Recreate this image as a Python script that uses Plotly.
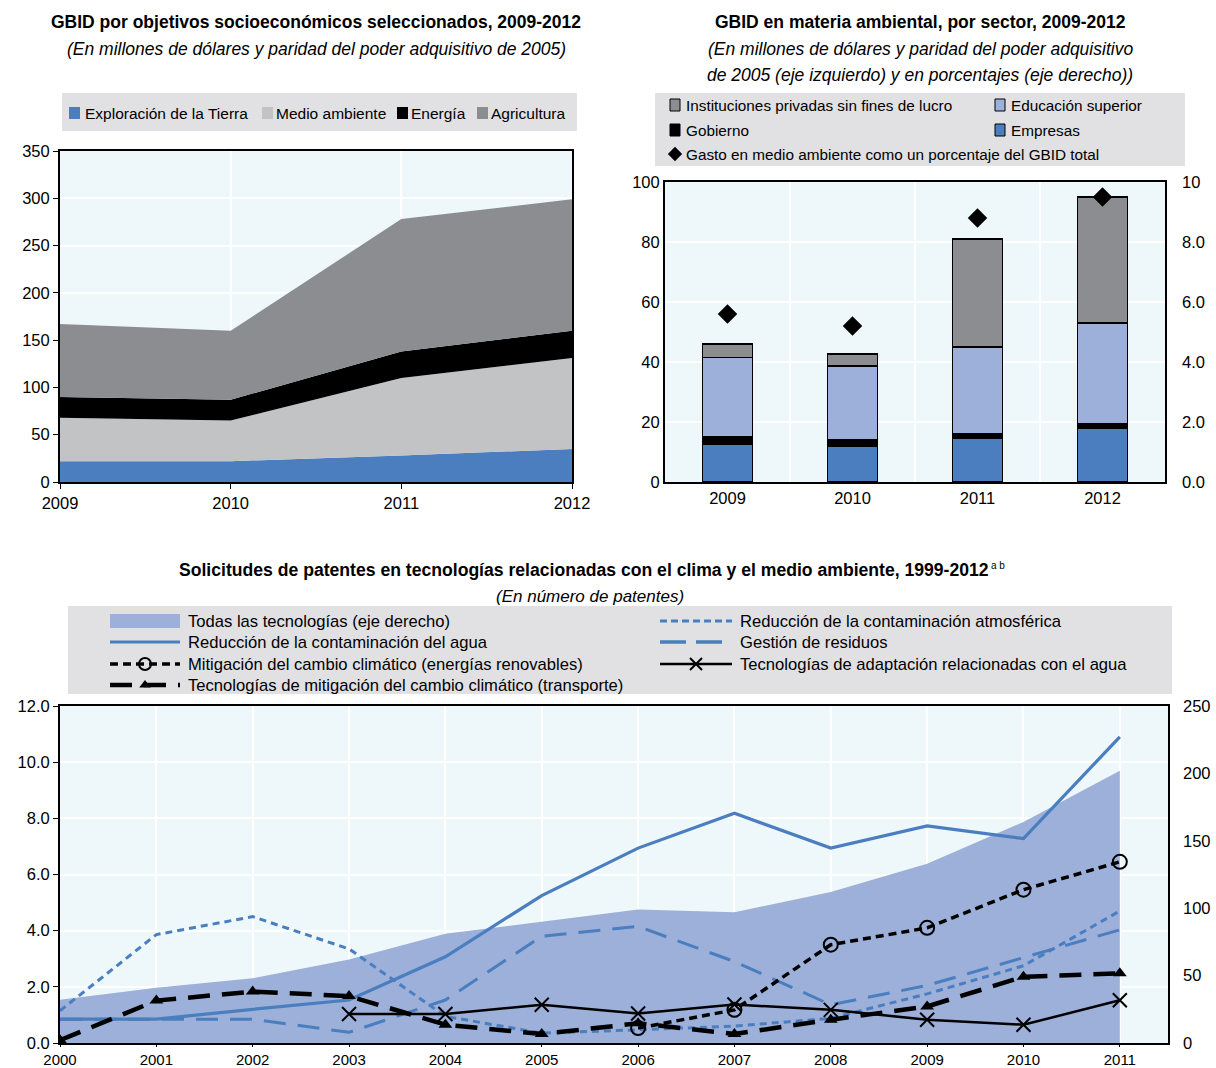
import plotly.graph_objects as go

W, H = 1216, 1068
FONT = "Liberation Sans, Arial, sans-serif"

# ---------------- data ----------------
# Panel A: GBID por objetivos socioeconómicos (stacked areas)
years_a = [2009, 2010, 2011, 2012]
exploracion = [22, 22, 28, 35]
medio_ambiente = [46, 43, 82, 96]
energia = [22, 22, 28, 29]
agricultura = [77, 73, 140, 139]

# Panel B: GBID ambiental por sector (stacked bars) + % (right axis)
years_b = ["2009", "2010", "2011", "2012"]
empresas = [12.5, 12.0, 14.5, 18.0]
gobierno = [2.5, 2.3, 1.5, 1.5]
educacion = [26.5, 24.4, 29.0, 33.5]
instituciones = [4.5, 4.0, 36.0, 42.0]
pct_gbid = [5.6, 5.2, 8.8, 9.5]
right_b_ticks = [0, 2, 4, 6, 8, 10]
right_b_text = ["0.0", "2.0", "4.0", "6.0", "8.0", "10"]

# Panel C: patents
years_c = list(range(2000, 2012))
todas = [32, 41, 48, 62, 81, 90, 99, 97, 112, 133, 164, 202]
agua = [0.85, 0.85, 1.2, 1.53, 3.07, 5.25, 6.94, 8.18, 6.94, 7.73, 7.28, 10.9]
aire = [1.15, 3.86, 4.5, 3.35, 0.95, 0.35, 0.47, 0.6, 0.88, 1.75, 2.75, 4.7]
residuos = [0.85, 0.85, 0.85, 0.38, 1.53, 3.8, 4.15, 2.9, 1.36, 2.05, 3.05, 4.03]
renovables = [None] * 6 + [0.53, 1.18, 3.5, 4.1, 5.46, 6.45]
adaptacion = [None] * 3 + [1.03, 1.03, 1.36, 1.05, 1.37, 1.18, 0.83, 0.65, 1.52]
transporte = [0.1, 1.51, 1.83, 1.67, 0.65, 0.32, 0.7, 0.32, 0.83, 1.3, 2.36, 2.48]

# ---------------- styles ----------------
BLUE = "#4A7EBF"
LGRAY = "#C2C3C5"
DGRAY = "#8C8D91"
LBLUE = "#9DB0DA"
AREA = "#9CB0D9"
PLOTBG = "#EEF7FA"
LEGBG = "#E1E1E3"


def px(x):
    return x / W


def py(y):
    return 1 - y / H


fig = go.Figure()

# ---------- Panel A ----------
for name, vals, col in [("Exploración de la Tierra", exploracion, BLUE),
                        ("Medio ambiente", medio_ambiente, LGRAY),
                        ("Energía", energia, "#000000"),
                        ("Agricultura", agricultura, DGRAY)]:
    fig.add_trace(go.Scatter(x=years_a, y=vals, name=name, stackgroup="a",
                             mode="lines", line=dict(width=0, color=col),
                             fillcolor=col, xaxis="x", yaxis="y", showlegend=False))

# ---------- Panel B ----------
for name, vals, col in [("Empresas", empresas, BLUE),
                        ("Gobierno", gobierno, "#000000"),
                        ("Educación superior", educacion, LBLUE),
                        ("Instituciones privadas sin fines de lucro", instituciones, DGRAY)]:
    fig.add_trace(go.Bar(x=years_b, y=vals, name=name, marker=dict(color=col, line=dict(color="#000", width=1.2)),
                         width=0.4, xaxis="x2", yaxis="y2", showlegend=False))
fig.add_trace(go.Scatter(x=years_b, y=pct_gbid, mode="markers", name="Gasto en medio ambiente",
                         marker=dict(symbol="diamond", size=15, color="#000"),
                         xaxis="x2", yaxis="y3", showlegend=False))

# ---------- Panel C ----------
fig.add_trace(go.Scatter(x=years_c, y=todas, mode="lines", fill="tozeroy", fillcolor=AREA,
                         line=dict(width=0, color=AREA), name="Todas las tecnologías",
                         xaxis="x3", yaxis="y4", showlegend=False))
line_specs = [
    ("Reducción de la contaminación atmosférica", aire, dict(color=BLUE, width=3, dash="7px,5px"), None),
    ("Gestión de residuos", residuos, dict(color=BLUE, width=3, dash="22px,12px"), None),
    ("Reducción de la contaminación del agua", agua, dict(color=BLUE, width=3.2), None),
    ("Tecnologías de adaptación relacionadas con el agua", adaptacion, dict(color="#000", width=2.5),
     dict(symbol="x-thin-open", size=14, color="#000", line=dict(color="#000", width=2))),
    ("Mitigación del cambio climático (energías renovables)", renovables, dict(color="#000", width=3.5, dash="8px,5px"),
     dict(symbol="circle-open", size=14, color="#000", line=dict(color="#000", width=2))),
    ("Tecnologías de mitigación del cambio climático (transporte)", transporte,
     dict(color="#000", width=4.5, dash="22px,12px"),
     dict(symbol="triangle-up", size=12, color="#000")),
]
for name, vals, ln, mk in line_specs:
    fig.add_trace(go.Scatter(x=years_c, y=vals, name=name, mode="lines+markers" if mk else "lines",
                             line=ln, marker=mk, xaxis="x3", yaxis="y5", showlegend=False,
                             connectgaps=False))

# ---------- legend samples on a pixel canvas ----------
shapes = []
annotations = []


def canvas_text(x, y, text, size=15.5, anchor="left", bold=False, italic=False):
    t = text
    if bold:
        t = "<b>" + t + "</b>"
    if italic:
        t = "<i>" + t + "</i>"
    annotations.append(dict(x=x, y=y, xref="x4", yref="y6", text=t, showarrow=False,
                            xanchor=anchor, yanchor="middle",
                            font=dict(family=FONT, size=size, color="#000")))


def canvas_rect(x0, y0, x1, y1, fill, line=None):
    shapes.append(dict(type="rect", xref="x4", yref="y6", x0=x0, y0=y0, x1=x1, y1=y1,
                       fillcolor=fill, line=dict(width=1 if line else 0, color=line or fill),
                       layer="below"))


# Panel A legend
canvas_rect(62, 93, 577, 131, LEGBG)
for sx, tx, label, col in [(69, 83, "Exploración de la Tierra", BLUE),
                           (262, 274, "Medio ambiente", LGRAY),
                           (397, 409, "Energía", "#000"),
                           (477, 489, "Agricultura", DGRAY)]:
    canvas_rect(sx, 107, sx + 11, 119, col)
    canvas_text(tx, 113, label)

# Panel B legend
canvas_rect(655, 93, 1185, 166, LEGBG)
for sx, yy, label, col in [(670, 105, "Instituciones privadas sin fines de lucro", DGRAY),
                           (995, 105, "Educación superior", LBLUE),
                           (670, 130, "Gobierno", "#000"),
                           (995, 130, "Empresas", BLUE)]:
    canvas_rect(sx, yy - 6, sx + 10, yy + 6, col, line="#000")
    canvas_text(sx + 14, yy, label, size=15.3)
fig.add_trace(go.Scatter(x=[675], y=[154], mode="markers", marker=dict(symbol="diamond", size=11, color="#000"),
                         xaxis="x4", yaxis="y6", showlegend=False, hoverinfo="skip"))
canvas_text(684, 154, "Gasto en medio ambiente como un porcentaje del GBID total", size=15.3)

# Panel C legend
canvas_rect(68, 606, 1172, 694, LEGBG)
canvas_rect(110, 614, 180, 628, AREA)
LX0, LX1 = 110, 180
RX0, RX1 = 660, 732
leg_c = [
    (LX0, LX1, 621, "Todas las tecnologías (eje derecho)", None, None),
    (RX0, RX1, 621, "Reducción de la contaminación atmosférica", dict(color=BLUE, width=3, dash="7px,4px"), None),
    (LX0, LX1, 642, "Reducción de la contaminación del agua", dict(color=BLUE, width=3.2), None),
    (RX0, RX1, 642, "Gestión de residuos", dict(color=BLUE, width=3.5, dash="26px,10px"), None),
    (LX0, LX1, 664, "Mitigación del cambio climático (energías renovables)",
     dict(color="#000", width=3.5, dash="8px,5px"),
     dict(symbol="circle-open", size=12, color="#000", line=dict(color="#000", width=2))),
    (RX0, RX1, 664, "Tecnologías de adaptación relacionadas con el agua", dict(color="#000", width=2.5),
     dict(symbol="x-thin-open", size=12, color="#000", line=dict(color="#000", width=2))),
    (LX0, LX1, 685, "Tecnologías de mitigación del cambio climático (transporte)",
     dict(color="#000", width=4.5, dash="22px,12px"),
     dict(symbol="triangle-up", size=10, color="#000")),
]
for x0, x1, yy, label, ln, mk in leg_c:
    if ln is not None:
        fig.add_trace(go.Scatter(x=[x0, x1], y=[yy, yy], mode="lines", line=ln, xaxis="x4", yaxis="y6",
                                 showlegend=False, hoverinfo="skip"))
    if mk is not None:
        fig.add_trace(go.Scatter(x=[(x0 + x1) / 2], y=[yy], mode="markers", marker=mk, xaxis="x4", yaxis="y6",
                                 showlegend=False, hoverinfo="skip"))
    canvas_text(x1 + 6, yy, label, size=16.6)

# Titles
canvas_text(316, 22, "GBID por objetivos socioeconómicos seleccionados, 2009-2012", size=17.5, anchor="center", bold=True)
canvas_text(316, 49, "(En millones de dólares y paridad del poder adquisitivo de 2005)", size=17.5, anchor="center", italic=True)
canvas_text(920, 22, "GBID en materia ambiental, por sector, 2009-2012", size=17.5, anchor="center", bold=True)
canvas_text(920, 49, "(En millones de dólares y paridad del poder adquisitivo", size=17.5, anchor="center", italic=True)
canvas_text(920, 75, "de 2005 (eje izquierdo) y en porcentajes (eje derecho))", size=17.5, anchor="center", italic=True)
canvas_text(584, 570, "Solicitudes de patentes en tecnologías relacionadas con el clima y el medio ambiente, 1999-2012",
            size=17.6, anchor="center", bold=True)
canvas_text(989, 565, "a b", size=10, anchor="left")
canvas_text(590, 596, "(En número de patentes)", size=17, anchor="center", italic=True)

# plot backgrounds
for xr, yr in [("x domain", "y domain"), ("x2 domain", "y2 domain"), ("x3 domain", "y4 domain")]:
    shapes.append(dict(type="rect", xref=xr, yref=yr, x0=0, x1=1, y0=0, y1=1,
                       fillcolor=PLOTBG, line=dict(width=0), layer="below"))

TICKF = dict(family=FONT, size=16.5, color="#000")
common = dict(tickfont=TICKF, gridcolor="#FFFFFF", gridwidth=1.5, zeroline=False, automargin=False)
common_c = dict(common, tickfont=dict(family=FONT, size=15, color="#000"))

fig.update_layout(
    width=W, height=H, margin=dict(l=0, r=0, t=0, b=0, autoexpand=False),
    paper_bgcolor="#FFFFFF", plot_bgcolor="rgba(0,0,0,0)",
    font=dict(family=FONT, size=16, color="#000"),
    barmode="stack", showlegend=False,
    shapes=shapes, annotations=annotations,
    xaxis=dict(domain=[px(60), px(572)], anchor="y", range=[2009, 2012], tickvals=years_a,
               showgrid=True, ticks="outside", ticklen=5, tickcolor="#000",
               showline=True, mirror=True, linecolor="#000", linewidth=2, **common),
    yaxis=dict(domain=[py(482), py(151)], anchor="x", range=[0, 350], dtick=50,
               showgrid=True, ticks="outside", ticklen=5, tickcolor="#000",
               showline=True, mirror=True, linecolor="#000", linewidth=2, **common),
    xaxis2=dict(domain=[px(665), px(1165)], anchor="y2", type="category", tickson="boundaries",
                range=[-0.5, 3.5], showgrid=True, ticks="",
                showline=True, mirror=True, linecolor="#000", linewidth=2, **common),
    yaxis2=dict(domain=[py(482), py(182)], anchor="x2", range=[0, 100], dtick=20,
                showgrid=True, ticks="", showline=True, mirror=True, linecolor="#000", linewidth=2, **common),
    yaxis3=dict(overlaying="y2", side="right", anchor="x2", range=[0, 10], tickvals=right_b_ticks,
                ticktext=right_b_text, showgrid=False, ticks="", ticklabelstandoff=16, **common),
    xaxis3=dict(domain=[px(60), px(1168)], anchor="y4", range=[2000, 2011.5], tickvals=years_c,
                showgrid=True, ticks="outside", ticklen=2, tickcolor="#000",
                showline=True, mirror=True, linecolor="#000", linewidth=2, **common_c),
    yaxis4=dict(domain=[py(1043), py(706)], anchor="x3", side="right", range=[0, 250], dtick=50,
                showgrid=False, ticks="", ticklabelstandoff=14, **common),
    yaxis5=dict(overlaying="y4", side="left", anchor="x3", range=[0, 12], tickvals=[0, 2, 4, 6, 8, 10, 12],
                tickformat=".1f", showgrid=True, ticks="outside", ticklen=5, tickcolor="#000",
                showline=True, mirror=True, linecolor="#000", linewidth=2, **common),
    xaxis4=dict(domain=[0, 1], anchor="y6", range=[0, W], visible=False, fixedrange=True, automargin=False),
    yaxis6=dict(domain=[0, 1], anchor="x4", range=[H, 0], visible=False, fixedrange=True, automargin=False),
)

fig.write_html("out.html", config={"displayModeBar": False},
               post_script="document.body.style.margin='0px';")
